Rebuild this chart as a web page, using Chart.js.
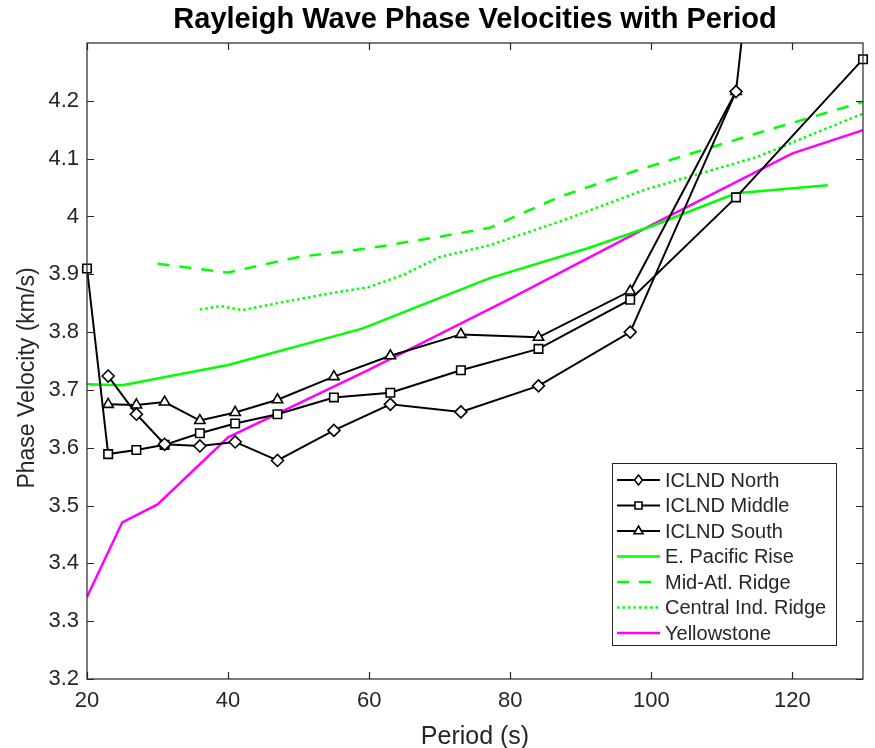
<!DOCTYPE html>
<html>
<head>
<meta charset="utf-8">
<script src="https://cdn.jsdelivr.net/npm/chart.js@4"></script>
<style>
  html, body { margin: 0; padding: 0; background: #fff; }
  #wrap { width: 875px; height: 748px; position: relative; }
</style>
</head>
<body>
<div id="wrap"><canvas id="phaseChart"></canvas></div>
<script>
// periods (s) and phase velocities (km/s)
const iclndPeriods = [20, 23, 27, 31, 36, 41, 47, 55, 63, 73, 84, 97, 112, 130];
const northPeriods = [23, 27, 31, 36, 41, 47, 55, 63, 73, 84, 97, 112, 130];
const southPeriods = [23, 27, 31, 36, 41, 47, 55, 63, 73, 84, 97, 112];
const northVel = [3.724, 3.658, 3.606, 3.603, 3.610, 3.578, 3.630, 3.675, 3.662, 3.707, 3.800, 4.216, 6.2];
const middleVel = [3.910, 3.589, 3.596, 3.605, 3.625, 3.642, 3.658, 3.687, 3.695, 3.734, 3.771, 3.856, 4.033, 4.272];
const southVel = [3.675, 3.674, 3.679, 3.647, 3.661, 3.683, 3.723, 3.759, 3.796, 3.791, 3.871, 4.216];

const eprPeriods = [20, 25, 40, 59, 77, 91, 100, 112, 125];
const eprVel = [3.710, 3.708, 3.743, 3.806, 3.893, 3.945, 3.983, 4.040, 4.054];
const marPeriods = [30, 40, 50, 60, 70, 77, 87, 98, 115, 130];
const marVel = [3.918, 3.903, 3.930, 3.945, 3.965, 3.980, 4.034, 4.080, 4.144, 4.198];
const cirPeriods = [36, 39, 42, 47, 55, 60, 65, 70, 77, 87, 99, 115, 130];
const cirVel = [3.839, 3.845, 3.838, 3.850, 3.868, 3.878, 3.900, 3.930, 3.950, 3.991, 4.046, 4.103, 4.178];
const ysPeriods = [20, 25, 30, 40, 60, 80, 100, 120, 130];
const ysVel = [3.342, 3.471, 3.502, 3.618, 3.735, 3.858, 3.985, 4.109, 4.149];

const xTicks = [20, 40, 60, 80, 100, 120];
const xTickLabels = ['20', '40', '60', '80', '100', '120'];
const yTicks = [3.2, 3.3, 3.4, 3.5, 3.6, 3.7, 3.8, 3.9, 4.0, 4.1, 4.2];
const yTickLabels = ['3.2', '3.3', '3.4', '3.5', '3.6', '3.7', '3.8', '3.9', '4', '4.1', '4.2'];

const FONT = '"Liberation Sans", Arial, Helvetica, sans-serif';
const AXIS = '#262626';

function pts(xs, ys) {
  return xs.map((x, i) => ({ x: x, y: ys[i] }));
}

function blackSeries(label, xs, ys, style, clip) {
  return {
    label: label,
    data: pts(xs, ys),
    borderColor: '#000',
    borderWidth: 2,
    pointStyle: style,
    pointRadius: 6,
    pointBorderWidth: 1.6,
    pointBorderColor: '#000',
    pointBackgroundColor: '#fff',
    clip: clip
  };
}

function colorSeries(label, xs, ys, color, dash) {
  return {
    label: label,
    data: pts(xs, ys),
    borderColor: color,
    borderWidth: 2.5,
    borderDash: dash,
    borderCapStyle: 'butt',
    pointRadius: 0
  };
}

function drawMarker(ctx, style, x, y, r) {
  ctx.beginPath();
  if (style === 'rectRot') {
    ctx.moveTo(x, y - r); ctx.lineTo(x + r * 0.8, y); ctx.lineTo(x, y + r); ctx.lineTo(x - r * 0.8, y);
  } else if (style === 'rect') {
    const s = r * 0.7;
    ctx.rect(x - s, y - s, 2 * s, 2 * s);
  } else if (style === 'triangle') {
    ctx.moveTo(x, y - r); ctx.lineTo(x + r * 0.9, y + r * 0.55); ctx.lineTo(x - r * 0.9, y + r * 0.55);
  }
  ctx.closePath();
  ctx.fillStyle = '#fff';
  ctx.fill();
  ctx.stroke();
}

const framePlugin = {
  id: 'frame',
  afterDraw(chart) {
    const ctx = chart.ctx;
    const a = chart.chartArea;
    const xs = chart.scales.x, ys = chart.scales.y;
    ctx.save();
    // box and inward ticks
    ctx.strokeStyle = AXIS;
    ctx.lineWidth = 1.2;
    ctx.strokeRect(a.left, a.top, a.right - a.left, a.bottom - a.top);
    ctx.beginPath();
    xTicks.forEach(v => {
      const px = Math.round(xs.getPixelForValue(v)) + 0.5;
      ctx.moveTo(px, a.bottom); ctx.lineTo(px, a.bottom - 7);
      ctx.moveTo(px, a.top); ctx.lineTo(px, a.top + 7);
    });
    yTicks.forEach(v => {
      const py = Math.round(ys.getPixelForValue(v)) + 0.5;
      ctx.moveTo(a.left, py); ctx.lineTo(a.left + 7, py);
      ctx.moveTo(a.right, py); ctx.lineTo(a.right - 7, py);
    });
    ctx.stroke();

    // title
    ctx.fillStyle = '#000';
    ctx.font = 'bold 29px ' + FONT;
    ctx.textAlign = 'center';
    ctx.textBaseline = 'alphabetic';
    ctx.fillText('Rayleigh Wave Phase Velocities with Period', (a.left + a.right) / 2, 28);

    // y axis label
    ctx.save();
    ctx.translate(27.5, 378);
    ctx.rotate(-Math.PI / 2);
    ctx.fillStyle = AXIS;
    ctx.font = '23px ' + FONT;
    ctx.textBaseline = 'middle';
    ctx.fillText('Phase Velocity (km/s)', 0, 0);
    ctx.restore();

    // legend
    const bx = 612.5, by = 463.5, bw = 224, bh = 182;
    ctx.fillStyle = '#fff';
    ctx.fillRect(bx, by, bw, bh);
    ctx.strokeStyle = AXIS;
    ctx.lineWidth = 1;
    ctx.strokeRect(bx, by, bw, bh);
    ctx.font = '20px ' + FONT;
    ctx.textAlign = 'left';
    ctx.textBaseline = 'middle';
    chart.data.datasets.forEach((ds, i) => {
      const y = 480 + i * 25.5;
      ctx.save();
      ctx.strokeStyle = ds.borderColor;
      ctx.lineWidth = ds.borderWidth;
      ctx.setLineDash(ds.borderDash || []);
      ctx.beginPath();
      ctx.moveTo(617, y); ctx.lineTo(660, y);
      ctx.stroke();
      ctx.setLineDash([]);
      if (ds.pointRadius > 0) {
        ctx.lineWidth = 1.6;
        drawMarker(ctx, ds.pointStyle, 638.5, y, 5);
      }
      ctx.restore();
      ctx.fillStyle = AXIS;
      ctx.fillText(ds.label, 665, y + 1);
    });
    ctx.restore();
  }
};

new Chart(document.getElementById('phaseChart'), {
  type: 'line',
  data: {
    datasets: [
      blackSeries('ICLND North', northPeriods, northVel, 'rectRot', { left: 8, right: 8, top: 0, bottom: 8 }),
      blackSeries('ICLND Middle', iclndPeriods, middleVel, 'rect', 8),
      blackSeries('ICLND South', southPeriods, southVel, 'triangle', 8),
      colorSeries('E. Pacific Rise', eprPeriods, eprVel, '#00ff00', []),
      colorSeries('Mid-Atl. Ridge', marPeriods, marVel, '#00ff00', [12, 10]),
      colorSeries('Central Ind. Ridge', cirPeriods, cirVel, '#00ff00', [2.5, 3]),
      colorSeries('Yellowstone', ysPeriods, ysVel, '#ff00ff', [])
    ]
  },
  options: {
    responsive: true,
    maintainAspectRatio: false,
    animation: false,
    layout: { padding: { left: 0, top: 43, right: 12, bottom: 0 } },
    elements: { line: { tension: 0 } },
    plugins: {
      legend: { display: false },
      title: { display: false },
      tooltip: { enabled: false }
    },
    scales: {
      x: {
        type: 'linear',
        min: 20,
        max: 130,
        grid: { display: false, drawTicks: false },
        border: { display: false },
        afterBuildTicks: s => { s.ticks = xTicks.map(v => ({ value: v })); },
        afterFit: s => { s.height = 69; },
        ticks: {
          padding: 9,
          color: AXIS,
          font: { family: FONT, size: 22 },
          maxRotation: 0,
          callback: v => xTickLabels[xTicks.indexOf(v)]
        },
        title: {
          display: true,
          text: 'Period (s)',
          color: AXIS,
          font: { family: FONT, size: 25, lineHeight: 0.9 },
          padding: { top: 0, bottom: 0 }
        }
      },
      y: {
        type: 'linear',
        min: 3.2,
        max: 4.3,
        grid: { display: false, drawTicks: false },
        border: { display: false },
        afterBuildTicks: s => { s.ticks = yTicks.map(v => ({ value: v })); },
        afterFit: s => { s.width = 87; },
        ticks: {
          padding: 8,
          color: AXIS,
          font: { family: FONT, size: 22 },
          callback: v => yTickLabels[yTicks.indexOf(v)]
        }
      }
    }
  },
  plugins: [framePlugin]
});
</script>
</body>
</html>
